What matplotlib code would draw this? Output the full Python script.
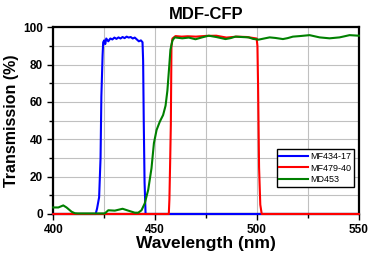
import matplotlib
matplotlib.use("Agg")
import matplotlib.pyplot as plt
from matplotlib.ticker import MultipleLocator

plt.rcParams["font.family"] = ["Liberation Sans", "DejaVu Sans"]

# MF434-17 (blue)
wl_blue = [400, 420.8, 421.5, 422, 422.5, 423.2, 423.6, 424.2, 424.5, 425, 425.5,
           426, 427, 428, 429, 430, 431, 432, 433, 434, 435, 436, 437, 438, 439,
           440, 441, 442, 443, 443.8, 444.1, 444.4, 444.8, 445.3, 550]
t_blue = [0, 0, 3, 6, 9, 30, 63, 85, 92, 93, 91, 94, 92.5, 94, 93.5, 94.5, 93.8,
          94.6, 94, 94.8, 94.2, 95, 94.5, 94.8, 94, 94.5, 93.5, 92.5, 93, 92,
          82, 50, 17, 0, 0]

# MF479-40 (red)
wl_red = [400, 456.7, 457.0, 457.4, 457.7, 458.0, 458.5, 460, 463, 466, 470,
          475, 480, 485, 490, 495, 499.8, 500.2, 500.5, 501.0, 501.6, 502.3, 550]
t_red = [0, 0, 8, 30, 48, 90, 94, 95.3, 95, 95.2, 95, 95.4, 95.5, 94.5, 95,
         94.8, 94, 90, 70, 25, 5, 0, 0]

# MD453 (green)
wl_green = [400, 402.5, 404.9, 406.5, 409, 410.6, 412, 425.2, 425.8, 427, 430.2,
            434, 436.8, 440, 441.7, 443.3, 444.9, 446.6, 448.2, 449.4, 450.7,
            452.3, 453.9, 455.1, 456, 456.9, 457.5, 458.5, 459.6, 463.3, 466.5,
            469.8, 473, 476.3, 480, 484.5, 487, 489.4, 492.5, 495.9, 498, 500.8,
            503, 506.2, 509, 512.7, 515, 517.6, 521, 525.8, 530.7, 535.6, 540.5,
            543, 545.4, 550]
t_green = [3.5, 3.5, 4.6, 3.5, 1.2, 0.4, 0.3, 0.3, 0.8, 2, 1.8, 2.8, 1.8, 0.7,
           0.7, 2, 5.7, 13, 24.5, 38, 45, 49.5, 53, 58, 66, 79, 88, 93, 94.6,
           94.1, 94.5, 93.6, 94.6, 95.5, 94.8, 93.7, 94.2, 95, 94.8, 94.6, 93.8,
           93.4, 93.9, 94.6, 94.3, 93.7, 94.2, 95, 95.3, 95.8, 94.6, 94.1, 94.6,
           95.2, 95.8, 95.5]

fig = plt.figure(figsize=(3.7, 2.54), dpi=100)
ax = fig.add_axes([0.144, 0.1575, 0.826, 0.735])

ax.plot(wl_blue, t_blue, color="#0000ff", lw=1.5, label="MF434-17",
        zorder=3, clip_on=False)
ax.plot(wl_red, t_red, color="#ff0000", lw=1.5, label="MF479-40",
        zorder=4, clip_on=False)
ax.plot(wl_green, t_green, color="#008000", lw=1.5, label="MD453",
        zorder=5, clip_on=False)

ax.set_xlim(400, 550)
ax.set_ylim(0, 100)
ax.xaxis.set_major_locator(MultipleLocator(50))
ax.xaxis.set_minor_locator(MultipleLocator(25))
ax.yaxis.set_major_locator(MultipleLocator(20))
ax.yaxis.set_minor_locator(MultipleLocator(10))
ax.grid(True, which="both", color="#c0c0c0", lw=0.8, zorder=0)
ax.set_axisbelow(True)

for s in ax.spines.values():
    s.set_linewidth(1.6)
    s.set_zorder(2.5)
ax.tick_params(which="major", direction="out", length=4, width=1,
               labelsize=8.5)
ax.tick_params(which="minor", direction="out", length=3, width=1)
for lab in ax.get_xticklabels() + ax.get_yticklabels():
    lab.set_fontweight("bold")

ax.set_title("MDF-CFP", fontsize=12, fontweight="bold", pad=6)
ax.set_xlabel("Wavelength (nm)", fontsize=12.5, fontweight="bold", labelpad=0)
ax.set_ylabel("Transmission (%)", fontsize=11.5, fontweight="bold", labelpad=3)

leg = ax.legend(loc="lower right", bbox_to_anchor=(0.983, 0.145), fontsize=6.5,
                frameon=True, fancybox=False, borderpad=0.3, handlelength=3.2,
                handletextpad=0.2, labelspacing=0.3, borderaxespad=0)
leg.get_frame().set_edgecolor("black")
leg.get_frame().set_linewidth(1)
leg.get_frame().set_alpha(1)
leg.set_zorder(10)

fig.savefig("out.png", dpi=100)
